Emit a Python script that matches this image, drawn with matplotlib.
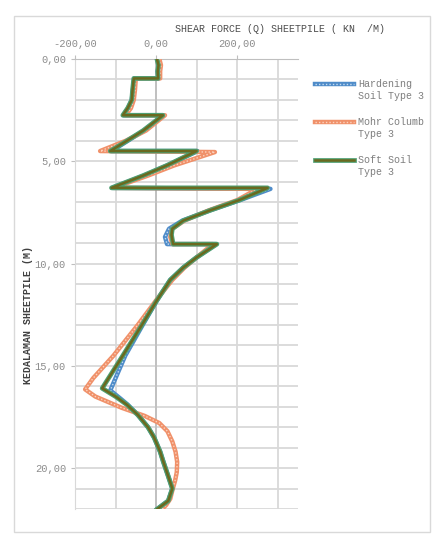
import matplotlib
matplotlib.use("Agg")
import matplotlib.pyplot as plt
from matplotlib.patches import Rectangle
from matplotlib.ticker import MultipleLocator, FixedLocator
from matplotlib.legend_handler import HandlerTuple

# depth (m) vs shear force (kN/m)
hs_depth = [0.0, 0.3, 0.6, 0.95, 0.95, 1.5, 2.0, 2.4, 2.75, 2.75, 3.5, 4.0, 4.5, 4.5,
            5.2, 5.7, 6.3, 6.35, 6.9, 7.4, 7.9, 8.3, 8.7, 9.05, 9.05, 9.7, 10.2, 10.8,
            11.8, 13.0, 14.5, 16.2, 16.6, 16.9, 17.4, 18.0, 18.5, 19.2, 19.7, 20.4,
            21.0, 21.6, 22.0]
hs_shear = [3, 7, 4, 6, -54, -57, -60, -69, -80, 18, -30, -70, -110, 102,
            28, -30, -108, 282, 207, 133, 65, 32, 22, 27, 148, 100, 67, 35,
            2, -33, -76, -113, -88, -70, -45, -20, -5, 10, 18, 30,
            40, 30, 3]

mc_depth = [0.0, 0.3, 0.6, 0.95, 0.95, 1.5, 2.0, 2.4, 2.75, 2.75, 3.5, 4.0, 4.5, 4.55,
            5.2, 5.7, 6.3, 6.35, 6.9, 7.4, 7.9, 8.3, 8.7, 9.05, 9.05, 9.7, 10.2, 10.8,
            11.8, 13.0, 14.5, 15.6, 16.15, 16.5, 17.05, 17.45, 17.8, 18.2, 18.7, 19.2,
            19.7, 20.2, 20.6, 21.1, 21.5, 21.8, 22.0]
mc_shear = [8, 12, 10, 10, -50, -52, -55, -62, -75, 22, -25, -75, -138, 145,
            45, -20, -105, 250, 200, 130, 70, 40, 35, 40, 140, 100, 70, 40,
            0, -45, -105, -155, -175, -150, -85, -28, 8, 28, 40, 48,
            52, 51, 47, 40, 35, 25, 15]

ss_depth = [0.0, 0.3, 0.6, 0.95, 0.95, 1.5, 2.0, 2.4, 2.75, 2.75, 3.5, 4.0, 4.5, 4.5,
            5.2, 5.7, 6.3, 6.3, 6.9, 7.4, 7.9, 8.3, 8.6, 9.05, 9.05, 9.7, 10.2, 10.8,
            11.8, 13.0, 14.5, 16.1, 16.5, 16.9, 17.4, 18.0, 18.5, 19.2, 19.7, 20.4,
            21.0, 21.6, 22.0]
ss_shear = [2, 6, 4, 5, -55, -58, -60, -70, -82, 17, -32, -72, -113, 100,
            27, -32, -110, 275, 205, 133, 67, 40, 38, 42, 150, 100, 67, 35,
            2, -35, -82, -133, -100, -72, -45, -20, -5, 10, 18, 30,
            40, 30, 3]

labels = ["Hardening\nSoil Type 3", "Mohr Columb\nType 3", "Soft Soil\nType 3"]
x_ticks = [-200, 0, 200]
y_ticks = [0, 5, 10, 15, 20]


class FirstLineTuple(HandlerTuple):
    """Put the legend line next to the first text line, like excel does."""
    def create_artists(self, legend, orig_handle, xdescent, ydescent,
                       width, height, fontsize, trans):
        return super().create_artists(legend, orig_handle, xdescent,
                                      ydescent - 9.0, width, height,
                                      fontsize, trans)


FONT = "Liberation Mono"
plt.rcParams["font.family"] = [FONT, "DejaVu Sans Mono"]
plt.rcParams["font.size"] = 7.3

fig = plt.figure(figsize=(4.44, 5.44), dpi=100)
fig.patches.append(Rectangle((14 / 444, 1 - 532 / 544), 416 / 444, 516 / 544,
                             transform=fig.transFigure, fill=False,
                             edgecolor="#d9d9d9", linewidth=1.0))

ax = fig.add_axes([75 / 444, 1 - 509 / 544, 223 / 444, 450 / 544])
ax.set_xlim(-200, 350)
ax.set_ylim(22, 0)

# grid like excel: every 100 kN across, every metre down
ax.xaxis.set_minor_locator(FixedLocator([-100, 100, 300]))
ax.yaxis.set_minor_locator(MultipleLocator(1))
ax.grid(which="both", color="#d9d9d9", linewidth=1.3)
ax.set_axisbelow(True)
ax.axvline(0, color="#bfbfbf", linewidth=1.3, zorder=1)

ax.xaxis.tick_top()
ax.set_xticks(x_ticks)
ax.set_yticks(y_ticks)
fmt = lambda v: f"{v:.2f}".replace(".", ",")
ax.set_xticklabels([fmt(v) for v in x_ticks])
ax.set_yticklabels([fmt(v) for v in y_ticks])
ax.tick_params(which="major", direction="out", length=3, color="#bfbfbf",
               labelcolor="#8c8c8c", labelsize=7.5)
ax.tick_params(axis="x", pad=4)
ax.tick_params(axis="y", pad=3.5)
ax.tick_params(which="minor", length=0)

for side in ["right", "bottom"]:
    ax.spines[side].set_visible(False)
ax.spines["top"].set_color("#bfbfbf")
ax.spines["left"].set_color("#d9d9d9")

# series: thick coloured base with a light dotted texture
hs_base, = ax.plot(hs_shear, hs_depth, color="#4f8cc9", lw=3.2, zorder=3,
                   solid_joinstyle="round")
hs_dot, = ax.plot(hs_shear, hs_depth, color="#c6dcf0", lw=1.0, ls=(0, (1, 1.5)),
                  zorder=3)
mc_base, = ax.plot(mc_shear, mc_depth, color="#f0916a", lw=3.2, zorder=4,
                   solid_joinstyle="round")
mc_dot, = ax.plot(mc_shear, mc_depth, color="#fbd3bf", lw=1.0, ls=(0, (1, 1.5)),
                  zorder=4)
ss_base, = ax.plot(ss_shear, ss_depth, color="#4e9f72", lw=3.4, zorder=5,
                   solid_joinstyle="round")
ss_core, = ax.plot(ss_shear, ss_depth, color="#6b691f", lw=1.8, zorder=6)

ax.legend([(hs_base, hs_dot), (mc_base, mc_dot), (ss_base, ss_core)], labels,
          handler_map={tuple: FirstLineTuple(ndivide=1)},
          loc="upper left", bbox_to_anchor=(310 / 444, 1 - 74 / 544),
          bbox_transform=fig.transFigure, frameon=False, handlelength=3.9,
          handletextpad=0.45, labelspacing=1.65, borderpad=0,
          labelcolor="#7f7f7f", fontsize=7.2)

fig.text(280 / 444, 1 - 29 / 544, "SHEAR FORCE (Q) SHEETPILE ( KN  /M)",
         ha="center", va="center", color="#4d4d4d", fontsize=7.2)
fig.text(28 / 444, 1 - 315 / 544, "KEDALAMAN SHEETPILE (M)", rotation=90,
         ha="center", va="center", color="#404040", fontsize=7.2,
         fontweight="bold")

fig.savefig("out.png", dpi=100)
